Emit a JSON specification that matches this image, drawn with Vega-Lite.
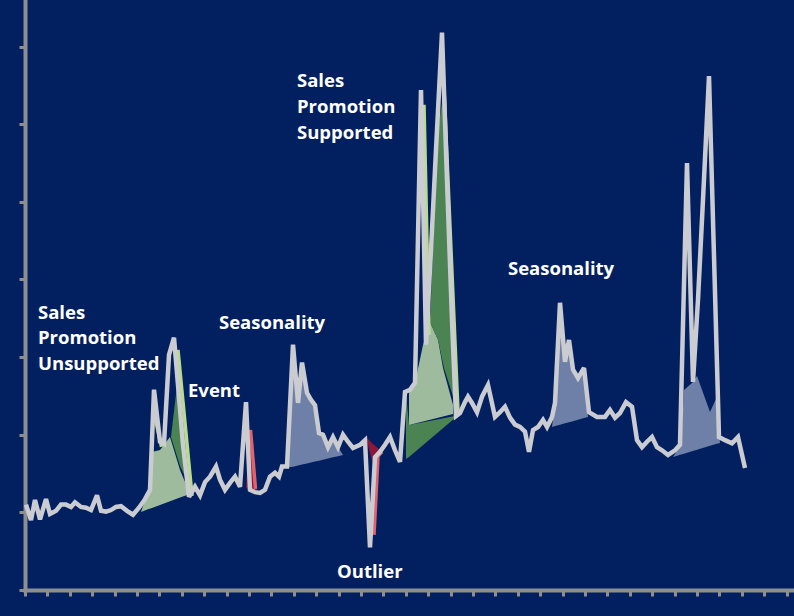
{
  "$schema": "https://vega.github.io/schema/vega-lite/v6.json",
  "width": 769,
  "height": 590,
  "autosize": {"type": "none"},
  "padding": {"left": 25, "top": 0, "right": 0, "bottom": 26},
  "background": "#022060",
  "config": {
    "view": {"stroke": null},
    "axis": {"labels": false, "grid": false, "title": null, "domainColor": "#8e8e8e", "domainWidth": 4, "domainCap": "square", "tickColor": "#8e8e8e", "tickWidth": 3, "tickSize": 6}
  },
  "datasets": {
    "sales": [
      {"t":0.2,"v":1.10},{"t":1.2,"v":0.90},{"t":2.0,"v":1.16},{"t":3.0,"v":0.91},{"t":4.2,"v":1.17},{"t":5.0,"v":0.98},{"t":6.2,"v":1.02},{"t":7.2,"v":1.10},{"t":8.2,"v":1.10},{"t":9.2,"v":1.07},
      {"t":10.0,"v":1.13},{"t":11.2,"v":1.07},{"t":12.2,"v":1.06},{"t":13.2,"v":1.03},{"t":14.4,"v":1.22},{"t":15.2,"v":1.02},{"t":16.2,"v":1.01},{"t":17.2,"v":1.03},{"t":18.2,"v":1.07},{"t":19.2,"v":1.08},
      {"t":20.4,"v":1.02},{"t":21.6,"v":0.97},{"t":22.8,"v":1.06},{"t":24.0,"v":1.17},{"t":25.0,"v":1.29},{"t":25.8,"v":2.58},{"t":27.0,"v":1.91},{"t":27.8,"v":1.88},{"t":28.8,"v":3.03},{"t":29.8,"v":3.25},
      {"t":30.6,"v":2.64},{"t":31.6,"v":1.87},{"t":32.8,"v":1.20},{"t":34.0,"v":1.33},{"t":35.0,"v":1.22},{"t":36.0,"v":1.39},{"t":37.0,"v":1.46},{"t":38.2,"v":1.59},{"t":39.0,"v":1.42},{"t":40.0,"v":1.29},
      {"t":41.0,"v":1.38},{"t":42.0,"v":1.46},{"t":43.0,"v":1.33},{"t":44.2,"v":2.42},{"t":45.0,"v":1.29},{"t":46.0,"v":1.26},{"t":47.0,"v":1.25},{"t":48.0,"v":1.29},{"t":49.0,"v":1.46},{"t":50.0,"v":1.51},
      {"t":50.8,"v":1.46},{"t":51.4,"v":1.59},{"t":52.4,"v":1.59},{"t":53.6,"v":3.16},{"t":54.6,"v":2.41},{"t":55.4,"v":2.93},{"t":56.4,"v":2.54},{"t":57.2,"v":2.45},{"t":58.0,"v":2.38},{"t":58.8,"v":2.02},
      {"t":59.6,"v":2.00},{"t":60.6,"v":1.84},{"t":61.6,"v":1.97},{"t":62.6,"v":1.84},{"t":63.6,"v":2.00},{"t":64.6,"v":1.91},{"t":65.6,"v":1.83},{"t":67.0,"v":1.87},{"t":68.0,"v":1.93},{"t":69.0,"v":0.55},
      {"t":70.0,"v":1.71},{"t":71.0,"v":1.78},{"t":72.0,"v":1.87},{"t":73.0,"v":1.97},{"t":74.0,"v":1.80},{"t":75.0,"v":1.65},{"t":76.0,"v":2.55},{"t":77.0,"v":2.58},{"t":78.0,"v":2.67},{"t":79.2,"v":6.44},
      {"t":80.2,"v":3.16},{"t":81.2,"v":4.38},{"t":82.2,"v":5.67},{"t":83.4,"v":7.18},{"t":84.4,"v":5.28},{"t":85.4,"v":3.48},{"t":86.2,"v":2.24},{"t":87.0,"v":2.28},{"t":88.0,"v":2.42},{"t":88.6,"v":2.49},
      {"t":89.4,"v":2.41},{"t":90.4,"v":2.29},{"t":91.4,"v":2.49},{"t":92.6,"v":2.64},{"t":94.0,"v":2.23},{"t":95.0,"v":2.29},{"t":96.0,"v":2.36},{"t":97.0,"v":2.22},{"t":98.0,"v":2.13},{"t":99.0,"v":2.10},
      {"t":100.0,"v":2.04},{"t":100.8,"v":1.78},{"t":101.6,"v":2.06},{"t":102.6,"v":2.10},{"t":103.6,"v":2.19},{"t":104.4,"v":2.10},{"t":105.4,"v":2.23},{"t":106.0,"v":2.41},{"t":107.0,"v":3.70},{"t":108.0,"v":2.94},
      {"t":108.8,"v":3.22},{"t":109.6,"v":2.84},{"t":110.6,"v":2.73},{"t":111.8,"v":2.86},{"t":112.8,"v":2.29},{"t":114.4,"v":2.23},{"t":116.0,"v":2.23},{"t":117.0,"v":2.32},{"t":118.0,"v":2.22},{"t":119.0,"v":2.28},
      {"t":120.2,"v":2.42},{"t":121.4,"v":2.36},{"t":122.4,"v":1.93},{"t":123.4,"v":1.84},{"t":124.4,"v":1.91},{"t":125.4,"v":1.97},{"t":126.4,"v":1.84},{"t":127.4,"v":1.80},{"t":128.6,"v":1.74},{"t":130.0,"v":1.80},
      {"t":131.0,"v":1.87},{"t":132.4,"v":5.50},{"t":133.6,"v":2.68},{"t":134.6,"v":3.74},{"t":135.6,"v":5.03},{"t":136.8,"v":6.62},{"t":137.8,"v":4.30},{"t":138.8,"v":1.97},{"t":140.0,"v":1.93},{"t":141.4,"v":1.89},
      {"t":142.6,"v":1.97},{"t":144.0,"v":1.57}
    ],
    "fills": [
      {"shape":"s1","kind":"season","t":52.6,"v":1.58,"v2":1.58},
      {"shape":"s1","kind":"season","t":53.6,"v":3.157,"v2":1.588},
      {"shape":"s1","kind":"season","t":54.6,"v":2.41,"v2":1.603},
      {"shape":"s1","kind":"season","t":55.4,"v":2.925,"v2":1.616},
      {"shape":"s1","kind":"season","t":56.4,"v":2.539,"v2":1.63},
      {"shape":"s1","kind":"season","t":57.2,"v":2.448,"v2":1.642},
      {"shape":"s1","kind":"season","t":58.0,"v":2.384,"v2":1.655},
      {"shape":"s1","kind":"season","t":58.8,"v":2.023,"v2":1.666},
      {"shape":"s1","kind":"season","t":59.6,"v":1.997,"v2":1.679},
      {"shape":"s1","kind":"season","t":60.6,"v":1.843,"v2":1.695},
      {"shape":"s1","kind":"season","t":61.6,"v":1.972,"v2":1.709},
      {"shape":"s1","kind":"season","t":62.6,"v":1.843,"v2":1.724},
      {"shape":"s1","kind":"season","t":63.6,"v":1.74,"v2":1.74},
      {"shape":"s2","kind":"season","t":105.4,"v":2.101,"v2":2.101},
      {"shape":"s2","kind":"season","t":106.0,"v":2.41,"v2":2.111},
      {"shape":"s2","kind":"season","t":107.0,"v":3.698,"v2":2.129},
      {"shape":"s2","kind":"season","t":108.0,"v":2.938,"v2":2.147},
      {"shape":"s2","kind":"season","t":108.8,"v":3.222,"v2":2.161},
      {"shape":"s2","kind":"season","t":109.6,"v":2.835,"v2":2.175},
      {"shape":"s2","kind":"season","t":110.6,"v":2.732,"v2":2.193},
      {"shape":"s2","kind":"season","t":111.8,"v":2.861,"v2":2.215},
      {"shape":"s2","kind":"season","t":112.6,"v":2.229,"v2":2.229},
      {"shape":"s3","kind":"season","t":129.6,"v":1.714,"v2":1.714},
      {"shape":"s3","kind":"season","t":131.2,"v":1.869,"v2":1.745},
      {"shape":"s3","kind":"season","t":131.8,"v":2.577,"v2":1.756},
      {"shape":"s3","kind":"season","t":133.4,"v":2.668,"v2":1.787},
      {"shape":"s3","kind":"season","t":134.4,"v":2.758,"v2":1.807},
      {"shape":"s3","kind":"season","t":137.0,"v":2.294,"v2":1.857},
      {"shape":"s3","kind":"season","t":138.2,"v":2.461,"v2":1.88},
      {"shape":"s3","kind":"season","t":139.0,"v":1.894,"v2":1.894},
      {"shape":"u_sage","kind":"sage","t":23.2,"v":1.005,"v2":1.005},
      {"shape":"u_sage","kind":"sage","t":24.6,"v":1.263,"v2":1.039},
      {"shape":"u_sage","kind":"sage","t":25.4,"v":1.778,"v2":1.057},
      {"shape":"u_sage","kind":"sage","t":27.0,"v":1.804,"v2":1.095},
      {"shape":"u_sage","kind":"sage","t":29.0,"v":1.972,"v2":1.143},
      {"shape":"u_sage","kind":"sage","t":31.0,"v":1.546,"v2":1.191},
      {"shape":"u_sage","kind":"sage","t":33.0,"v":1.237,"v2":1.237},
      {"shape":"u_dark","kind":"dark","t":29.2,"v":1.972,"v2":1.972},
      {"shape":"u_dark","kind":"dark","t":31.0,"v":2.96,"v2":1.60},
      {"shape":"u_dark","kind":"dark","t":33.6,"v":1.237,"v2":1.237},
      {"shape":"p_dark1","kind":"dark","t":76.2,"v":2.552,"v2":1.688},
      {"shape":"p_dark1","kind":"dark","t":76.8,"v":2.126,"v2":1.714},
      {"shape":"p_dark1","kind":"dark","t":86.0,"v":2.242,"v2":2.216},
      {"shape":"p_sage","kind":"sage","t":76.8,"v":2.603,"v2":2.126},
      {"shape":"p_sage","kind":"sage","t":78.0,"v":2.668,"v2":2.146},
      {"shape":"p_sage","kind":"sage","t":79.6,"v":3.157,"v2":2.171},
      {"shape":"p_sage","kind":"sage","t":81.0,"v":3.45,"v2":2.194},
      {"shape":"p_sage","kind":"sage","t":82.6,"v":3.222,"v2":2.22},
      {"shape":"p_sage","kind":"sage","t":83.6,"v":2.861,"v2":2.236},
      {"shape":"p_sage","kind":"sage","t":85.6,"v":2.384,"v2":2.268},
      {"shape":"p_dark2","kind":"dark","t":81.0,"v":3.45,"v2":3.45},
      {"shape":"p_dark2","kind":"dark","t":82.6,"v":5.928,"v2":3.222},
      {"shape":"p_dark2","kind":"dark","t":83.8,"v":6.443,"v2":2.861},
      {"shape":"p_dark2","kind":"dark","t":86.6,"v":2.294,"v2":2.294},
      {"shape":"e1","kind":"red","t":44.2,"v":1.314,"v2":1.314},
      {"shape":"e1","kind":"red","t":45.0,"v":2.088,"v2":1.289},
      {"shape":"e1","kind":"red","t":46.4,"v":1.289,"v2":1.289},
      {"shape":"o1","kind":"red","t":68.2,"v":1.972,"v2":1.972},
      {"shape":"o1","kind":"red","t":69.6,"v":1.88,"v2":1.62},
      {"shape":"o1","kind":"red","t":71.4,"v":1.78,"v2":1.78}
    ],
    "edges": [
      {"edge":"ug1","kind":"lgreen","t":25.9,"v":2.255},{"edge":"ug1","kind":"lgreen","t":27.3,"v":1.843},
      {"edge":"ug2","kind":"lgreen","t":30.6,"v":3.093},{"edge":"ug2","kind":"lgreen","t":33.4,"v":1.211},
      {"edge":"pg1","kind":"lgreen","t":79.8,"v":6.25},{"edge":"pg1","kind":"lgreen","t":80.8,"v":3.286},
      {"edge":"pg2","kind":"lgreen","t":83.8,"v":6.469},{"edge":"pg2","kind":"lgreen","t":86.6,"v":2.294},
      {"edge":"ep","kind":"pink","t":45.1,"v":2.062},{"edge":"ep","kind":"pink","t":46.1,"v":1.302},
      {"edge":"op","kind":"pink","t":69.8,"v":0.709},{"edge":"op","kind":"pink","t":70.6,"v":1.727},{"edge":"op","kind":"pink","t":71.4,"v":1.78}
    ],
    "labels": [
      {"label":"Sales","t":2.6,"v":3.57},
      {"label":"Promotion","t":2.6,"v":3.25},
      {"label":"Unsupported","t":2.6,"v":2.91},
      {"label":"Event","t":32.6,"v":2.56},
      {"label":"Seasonality","t":38.8,"v":3.44},
      {"label":"Sales","t":54.4,"v":6.56},
      {"label":"Promotion","t":54.4,"v":6.22},
      {"label":"Supported","t":54.4,"v":5.89},
      {"label":"Seasonality","t":96.6,"v":4.14},
      {"label":"Outlier","t":62.4,"v":0.23}
    ]
  },
  "encoding": {
    "x": {"field": "t", "type": "quantitative", "scale": {"domain": [0, 153.8], "nice": false, "zero": false},
      "axis": {"values": [0,4.48,8.96,13.44,17.92,22.4,26.88,31.36,35.84,40.32,44.8,49.28,53.76,58.24,62.72,67.2,71.68,76.16,80.64,85.12,89.6,94.08,98.56,103.04,107.52,112,116.48,120.96,125.44,129.92,134.4,138.88,143.36,147.84,152.32]}},
    "y": {"field": "v", "type": "quantitative", "stack": null, "scale": {"domain": [0, 7.6], "nice": false, "zero": false},
      "axis": {"values": [0,1,2,3,4,5,6,7]}}
  },
  "layer": [
    {
      "data": {"name": "fills"},
      "mark": {"type": "area", "opacity": 1},
      "encoding": {
        "y2": {"field": "v2"},
        "detail": {"field": "shape"},
        "color": {"field": "kind", "type": "nominal", "legend": null,
          "scale": {"domain": ["season","sage","dark","red","lgreen","pink"], "range": ["#6e80a7","#9fbb9d","#4b8352","#8c1839","#b8dc8c","#e0646e"]}}
      }
    },
    {
      "data": {"name": "edges"},
      "mark": {"type": "line", "strokeWidth": 3.5},
      "encoding": {
        "detail": {"field": "edge"},
        "color": {"field": "kind", "type": "nominal", "legend": null,
          "scale": {"domain": ["season","sage","dark","red","lgreen","pink"], "range": ["#6e80a7","#9fbb9d","#4b8352","#8c1839","#b8dc8c","#e0646e"]}}
      }
    },
    {
      "data": {"name": "sales"},
      "mark": {"type": "line", "color": "#cbccd1", "strokeWidth": 4.5, "strokeJoin": "miter", "strokeMiterLimit": 3},
      "encoding": {}
    },
    {
      "data": {"name": "labels"},
      "mark": {"type": "text", "color": "#ffffff", "font": "Open Sans", "fontWeight": "bold", "fontSize": 18.5, "align": "left", "baseline": "middle"},
      "encoding": {"text": {"field": "label"}}
    }
  ]
}
